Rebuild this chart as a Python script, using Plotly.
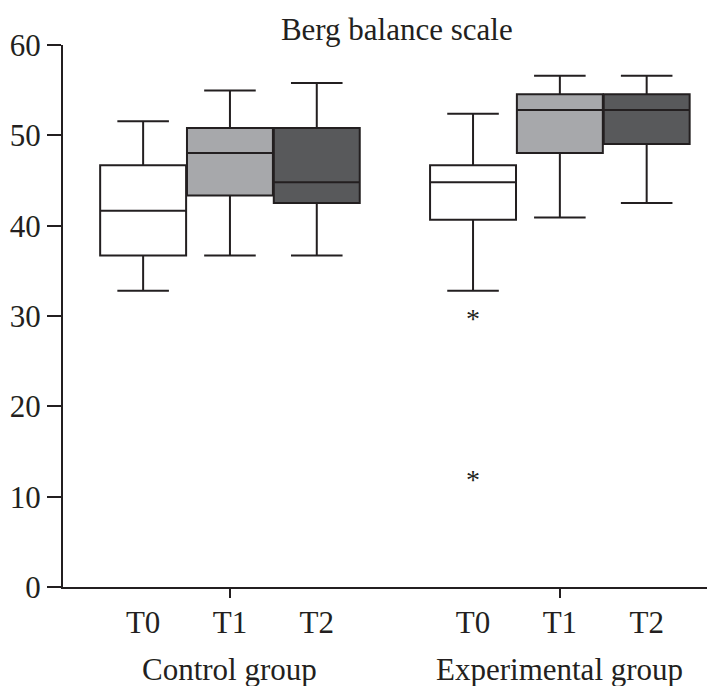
import plotly.graph_objects as go

# ---- data ----
categories = ["T0", "T1", "T2", "T0", "T1", "T2"]
groups = ["Control group", "Experimental group"]
positions = [1.0, 2.0, 3.0, 4.8, 5.8, 6.8]
lower_whisker = [32.8, 36.7, 36.7, 32.8, 40.9, 42.5]
q1_values = [36.7, 43.35, 42.5, 40.65, 48.05, 49.05]
medians = [41.65, 48.05, 44.8, 44.8, 52.8, 52.8]
q3_values = [46.7, 50.8, 50.8, 46.7, 54.55, 54.55]
upper_whisker = [51.55, 54.95, 55.8, 52.4, 56.6, 56.6]
fill_colors = ["#ffffff", "#a7a8ab", "#58595b", "#ffffff", "#a7a8ab", "#58595b"]
group_positions = [2.0, 5.8]
outlier_x = [4.8, 4.8]
outlier_y = [29.4, 11.6]
y_ticks = [0, 10, 20, 30, 40, 50, 60]

INK = "#231f20"
FONT = "Liberation Serif, Times New Roman, serif"
FS = 31

fig = go.Figure()
for i in range(len(positions)):
    fig.add_trace(go.Box(
        x=[positions[i]],
        q1=[q1_values[i]], median=[medians[i]], q3=[q3_values[i]],
        lowerfence=[lower_whisker[i]], upperfence=[upper_whisker[i]],
        width=0.99, whiskerwidth=0.6,
        fillcolor=fill_colors[i],
        line=dict(color=INK, width=2),
        name=categories[i], showlegend=False,
    ))

fig.add_trace(go.Scatter(
    x=outlier_x, y=outlier_y, mode="text", text=["*"] * len(outlier_y),
    textposition="middle center",
    textfont=dict(family=FONT, size=28, color=INK),
    showlegend=False, hoverinfo="y",
))

for gx, gname in zip(group_positions, groups):
    fig.add_annotation(x=gx, y=0, xref="x", yref="paper", text=gname,
                       showarrow=False, yanchor="middle", yshift=-82,
                       font=dict(family=FONT, size=FS, color=INK))

fig.update_layout(
    width=707, height=678,
    margin=dict(l=55, r=0, t=37, b=99),
    paper_bgcolor="white", plot_bgcolor="white",
    boxmode="overlay",
    font=dict(family=FONT, size=FS, color=INK),
    title=dict(text="Berg balance scale", x=0.512, xref="paper", xanchor="center",
               y=1 - 21 / 678, yref="container", yanchor="middle",
               font=dict(family=FONT, size=FS, color=INK)),
    xaxis=dict(range=[0.077, 7.587], showline=True, linewidth=2, linecolor=INK,
               tickvals=positions, ticktext=categories, ticks="outside",
               ticklen=7, tickcolor="rgba(0,0,0,0)", showgrid=False, zeroline=False,
               tickfont=dict(family=FONT, size=FS, color=INK), fixedrange=True),
    xaxis2=dict(overlaying="x", matches="x", anchor="y", side="bottom",
                tickvals=group_positions, ticks="outside", ticklen=10, tickwidth=2,
                tickcolor=INK, showticklabels=False, showgrid=False, zeroline=False,
                showline=False),
    yaxis=dict(range=[0, 60], tickvals=y_ticks, showline=True, linewidth=2,
               linecolor=INK, ticks="outside", ticklen=14, tickwidth=2, tickcolor=INK,
               showgrid=False, zeroline=False,
               tickfont=dict(family=FONT, size=FS, color=INK)),
)
# invisible trace to activate xaxis2 ticks
fig.add_trace(go.Scatter(x=[group_positions[0]], y=[None], xaxis="x2", showlegend=False,
                         hoverinfo="skip", mode="markers"))

fig.write_html("out.html")
